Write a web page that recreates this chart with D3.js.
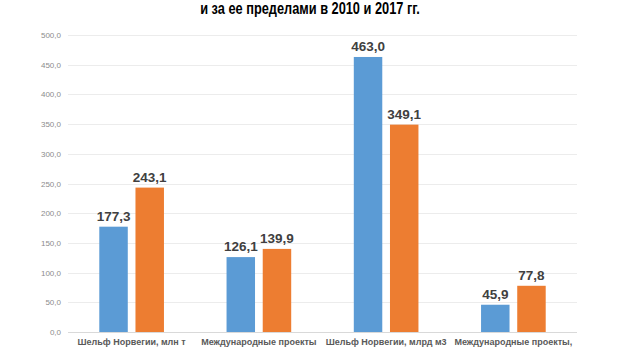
<!DOCTYPE html>
<html>
<head>
<meta charset="utf-8">
<script src="https://cdn.jsdelivr.net/npm/d3@7"></script>
<style>
  html, body { margin: 0; padding: 0; background: #fff; }
  svg { display: block; }
</style>
</head>
<body>
<svg id="chart" width="620" height="348"></svg>
<script>
const title = "и за ее пределами в 2010 и 2017 гг.";
const categories = ["Шельф Норвегии, млн т", "Международные проекты", "Шельф Норвегии, млрд м3", "Международные проекты,"];
const seriesNames = ["2010", "2017"];
const values2010 = [177.3, 126.1, 463.0, 45.9];
const values2017 = [243.1, 139.9, 349.1, 77.8];
const yTicks = [0, 50, 100, 150, 200, 250, 300, 350, 400, 450, 500];
const colors = ["#5b9bd5", "#ed7d31"];

const svg = d3.select("#chart");
const fmt = v => v.toFixed(1).replace(".", ",");

const x0 = d3.scaleBand().domain(categories).range([68, 577]).paddingInner(0).paddingOuter(0);
const x1 = d3.scaleBand().domain(seriesNames).range([0, x0.bandwidth()]).paddingInner(0.213).paddingOuter(0.865);
const y = d3.scaleLinear().domain([0, 500]).range([332, 35]);

// gridlines
svg.append("g").selectAll("line").data(yTicks).join("line")
  .attr("x1", 68).attr("x2", 577)
  .attr("y1", d => Math.round(y(d)) + 0.5).attr("y2", d => Math.round(y(d)) + 0.5)
  .attr("stroke", d => d === 0 ? "#d9d9d9" : "#ececec").attr("stroke-width", 1);

// y axis labels
const yAxis = d3.axisLeft(y).tickValues(yTicks).tickSize(0).tickPadding(0).tickFormat(fmt);
const gy = svg.append("g").attr("transform", "translate(61,0)").call(yAxis);
gy.select(".domain").remove();
gy.selectAll("text").attr("font-family", "'Liberation Sans', Arial, sans-serif")
  .attr("font-size", 8).attr("fill", "#8c8c8c");

// bars
const data = categories.map((c, i) => ({ cat: c, vals: [
  { s: seriesNames[0], v: values2010[i], ci: 0 },
  { s: seriesNames[1], v: values2017[i], ci: 1 }
]}));

const groups = svg.append("g").selectAll("g").data(data).join("g")
  .attr("transform", d => `translate(${x0(d.cat)},0)`);

groups.selectAll("rect").data(d => d.vals).join("rect")
  .attr("x", d => x1(d.s)).attr("width", x1.bandwidth())
  .attr("y", d => y(d.v)).attr("height", d => y(0) - y(d.v))
  .attr("fill", d => colors[d.ci]);

groups.selectAll("text.val").data(d => d.vals).join("text")
  .attr("class", "val")
  .attr("x", d => x1(d.s) + x1.bandwidth() / 2)
  .attr("y", d => y(d.v) - 6)
  .attr("text-anchor", "middle")
  .attr("font-family", "'Liberation Sans', Arial, sans-serif")
  .attr("font-weight", "bold").attr("font-size", 13.5)
  .attr("fill", "#404040")
  .text(d => fmt(d.v));

// category labels
const xAxis = d3.axisBottom(x0).tickSize(0).tickPadding(0);
const gx = svg.append("g").attr("transform", "translate(0,339)").call(xAxis);
gx.select(".domain").remove();
gx.selectAll("text").attr("font-family", "'Liberation Sans', Arial, sans-serif")
  .attr("font-weight", "bold").attr("font-size", 9).attr("fill", "#595959")
  .attr("dy", "0.71em");

// title (condensed look via horizontal scale)
svg.append("text")
  .attr("transform", "translate(310,14) scale(0.8,1)")
  .attr("text-anchor", "middle")
  .attr("font-family", "'Liberation Sans', Arial, sans-serif")
  .attr("font-weight", "bold").attr("font-size", 16)
  .attr("fill", "#000")
  .text(title);
</script>
</body>
</html>
